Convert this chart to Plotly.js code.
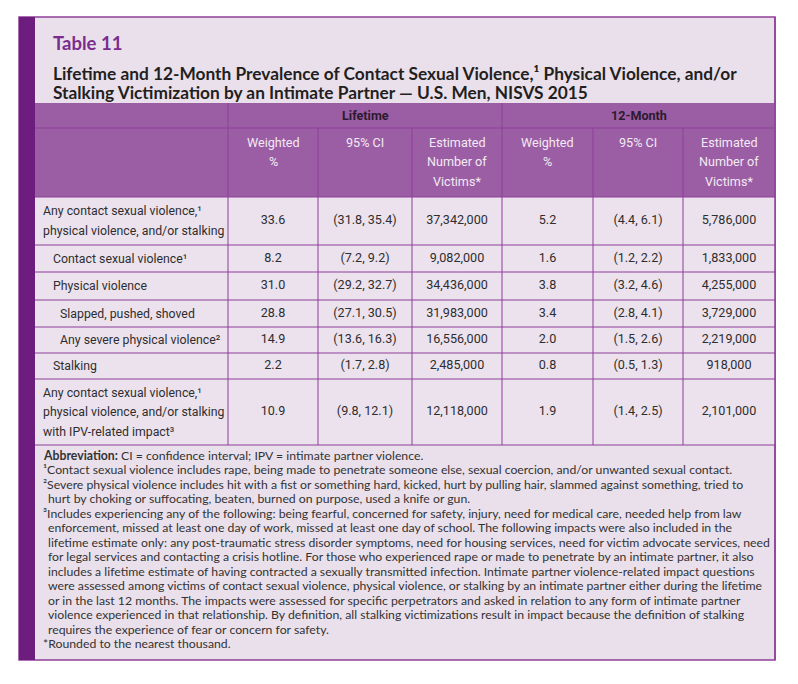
<!DOCTYPE html>
<html><head><meta charset="utf-8">
<script src="https://cdn.plot.ly/plotly-3.0.1.min.js"></script>
<style>html,body{margin:0;padding:0;background:#fff}</style>
</head><body><div id="chart" style="width:798px;height:684px"></div>
<script>
// ---------------- data ----------------
const tableNumber = "Table 11";
const titleLines = [
  "Lifetime and 12-Month Prevalence of Contact Sexual Violence,\u00b9 Physical Violence, and/or",
  "Stalking Victimization by an Intimate Partner \u2014 U.S. Men, NISVS 2015"
];
const groupHeaders = ["Lifetime", "12-Month"];
const subHeaders = ["Weighted<br>%", "95% CI", "Estimated<br>Number of<br>Victims*",
                    "Weighted<br>%", "95% CI", "Estimated<br>Number of<br>Victims*"];
const rowLabels = [
  "Any contact sexual violence,\u00b9<br>physical violence, and/or stalking",
  "Contact sexual violence\u00b9",
  "Physical violence",
  "Slapped, pushed, shoved",
  "Any severe physical violence\u00b2",
  "Stalking",
  "Any contact sexual violence,\u00b9<br>physical violence, and/or stalking<br>with IPV-related impact\u00b3"
];
const rowLevel = [0, 1, 1, 2, 2, 1, 0];
const lifetimeWeighted = [33.6, 8.2, 31.0, 28.8, 14.9, 2.2, 10.9];
const lifetimeCILow    = [31.8, 7.2, 29.2, 27.1, 13.6, 1.7, 9.8];
const lifetimeCIHigh   = [35.4, 9.2, 32.7, 30.5, 16.3, 2.8, 12.1];
const lifetimeVictims  = [37342000, 9082000, 34436000, 31983000, 16556000, 2485000, 12118000];
const monthWeighted    = [5.2, 1.6, 3.8, 3.4, 2.0, 0.8, 1.9];
const monthCILow       = [4.4, 1.2, 3.2, 2.8, 1.5, 0.5, 1.4];
const monthCIHigh      = [6.1, 2.2, 4.6, 4.1, 2.6, 1.3, 2.5];
const monthVictims     = [5786000, 1833000, 4255000, 3729000, 2219000, 918000, 2101000];
const footnoteLines = [
  "<b>Abbreviation:</b> CI = confidence interval; IPV = intimate partner violence.",
  "\u00b9Contact sexual violence includes rape, being made to penetrate someone else, sexual coercion, and/or unwanted sexual contact.",
  "\u00b2Severe physical violence includes hit with a fist or something hard, kicked, hurt by pulling hair, slammed against something, tried to",
  "hurt by choking or suffocating, beaten, burned on purpose, used a knife or gun.",
  "\u00b3Includes experiencing any of the following: being fearful, concerned for safety, injury, need for medical care, needed help from law",
  "enforcement, missed at least one day of work, missed at least one day of school. The following impacts were also included in the",
  "lifetime estimate only: any post-traumatic stress disorder symptoms, need for housing services, need for victim advocate services, need",
  "for legal services and contacting a crisis hotline. For those who experienced rape or made to penetrate by an intimate partner, it also",
  "includes a lifetime estimate of having contracted a sexually transmitted infection. Intimate partner violence-related impact questions",
  "were assessed among victims of contact sexual violence, physical violence, or stalking by an intimate partner either during the lifetime",
  "or in the last 12 months. The impacts were assessed for specific perpetrators and asked in relation to any form of intimate partner",
  "violence experienced in that relationship. By definition, all stalking victimizations result in impact because the definition of stalking",
  "requires the experience of fear or concern for safety.",
  "*Rounded to the nearest thousand."
];
const footnoteContinued = [false,false,false,true,false,true,true,true,true,true,true,true,true,false];

// ---------------- layout (style) ----------------
const W = 798, H = 684;
const BOX = {l: 19, band: 35, r: 775, t: 17, b: 660};
const colWidths = [193, 90, 94, 90, 91, 90, 92];
const headTop = 103, head1H = 25, head2H = 69;
const rowHeights = [48, 27, 28, 27, 26, 26, 66];
const LINE = 19.5;
const TF = "Roboto, Liberation Sans, sans-serif";
const TS = 12.6, LS = 12.3;
const FF = "Lato, Open Sans, sans-serif";
const purpleLine = "#8E3F98", headFill = "#9B5EA5", cellFill = "#ECE2EE", panelFill = "#EAE0EC";
const bandFill = "#6C1D7D", textCol = "#2E2E2E";

const colEdges = [BOX.band];
colWidths.forEach(w => colEdges.push(colEdges[colEdges.length - 1] + w));
const rowEdges = [headTop + head1H + head2H];
rowHeights.forEach(h => rowEdges.push(rowEdges[rowEdges.length - 1] + h));
const tableBottom = rowEdges[rowEdges.length - 1];

const shapes = [];
function rect(x0, y0, x1, y1, fill, line) {
  shapes.push({type: 'rect', xref: 'x', yref: 'y', x0, y0, x1, y1, fillcolor: fill,
    line: line || {width: 0}, layer: 'below'});
}
function seg(x0, y0, x1, y1, color, width) {
  shapes.push({type: 'line', xref: 'x', yref: 'y', x0, y0, x1, y1, line: {color, width}, layer: 'below'});
}
rect(BOX.l, BOX.t, BOX.r, BOX.b, panelFill, {color: purpleLine, width: 1.5});
rect(BOX.l, BOX.t, BOX.band, BOX.b, bandFill);
rect(BOX.band, headTop, BOX.r, rowEdges[0], headFill);
rect(BOX.band, rowEdges[0], BOX.r, tableBottom, cellFill);
seg(BOX.band, headTop + head1H, BOX.r, headTop + head1H, purpleLine, 1);
rowEdges.forEach(y => seg(BOX.band, y, BOX.r, y, purpleLine, 1));
for (let i = 1; i < colEdges.length - 1; i++) {
  const top = (i === 1 || i === 4) ? headTop : headTop + head1H;
  seg(colEdges[i], top, colEdges[i], tableBottom, purpleLine, 1);
}
seg(BOX.r, BOX.t, BOX.r, BOX.b, purpleLine, 1.5);

const ann = [];
function txt(x, y, text, o) {
  ann.push(Object.assign({x, y, xref: 'x', yref: 'y', text, showarrow: false,
    xanchor: 'center', yanchor: 'middle', align: 'center',
    font: {family: TF, size: TS, color: textCol}}, o || {}));
}
txt(51, 43, "<b>" + tableNumber + "</b>", {xanchor: 'left', font: {family: FF, size: 18.5, color: '#7B2D8E'}});
titleLines.forEach((t, i) => txt(51, 73 + i * 19.5, "<b>" + t + "</b>",
  {xanchor: 'left', font: {family: FF, size: 17.3, color: '#231F20'}}));
groupHeaders.forEach((g, i) => {
  const x0 = colEdges[1 + i * 3], x1 = colEdges[4 + i * 3];
  txt((x0 + x1) / 2, headTop + head1H / 2, "<b>" + g + "</b>", {font: {family: TF, size: TS, color: '#2B1A30'}});
});
subHeaders.forEach((s, i) => {
  const xc = (colEdges[1 + i] + colEdges[2 + i]) / 2;
  s.split('<br>').forEach((ln, k) =>
    txt(xc, headTop + head1H + 14 + k * LINE, ln, {font: {family: TF, size: TS, color: '#F2EAF3'}}));
});
const indents = [0, 10, 17];
rowLabels.forEach((lab, r) => {
  const parts = lab.split('<br>');
  const yc = (rowEdges[r] + rowEdges[r + 1]) / 2;
  parts.forEach((ln, k) => txt(colEdges[0] + 6 + indents[rowLevel[r]], yc + (k - (parts.length - 1) / 2) * LINE, ln,
    {xanchor: 'left', align: 'left', font: {family: TF, size: LS, color: textCol}}));
});
footnoteLines.forEach((ln, i) => txt(footnoteContinued[i] ? 46 : 41, 455 + i * 14.5, ln,
  {xanchor: 'left', align: 'left', font: {family: FF, size: 12.25, color: '#333333'}}));

const fmt1 = v => v.toFixed(1);
const fmtN = v => v.toLocaleString('en-US');
const fmtCI = (a, b) => "(" + a.toFixed(1) + ", " + b.toFixed(1) + ")";
const columns = [
  lifetimeWeighted.map(fmt1),
  lifetimeCILow.map((v, i) => fmtCI(v, lifetimeCIHigh[i])),
  lifetimeVictims.map(fmtN),
  monthWeighted.map(fmt1),
  monthCILow.map((v, i) => fmtCI(v, monthCIHigh[i])),
  monthVictims.map(fmtN)
];
const tx = [], ty = [], tt = [];
columns.forEach((col, c) => col.forEach((v, r) => {
  tx.push((colEdges[1 + c] + colEdges[2 + c]) / 2);
  ty.push((rowEdges[r] + rowEdges[r + 1]) / 2);
  tt.push(v);
}));

Plotly.newPlot('chart', [{
  type: 'scatter', mode: 'text', x: tx, y: ty, text: tt, textposition: 'middle center',
  textfont: {family: TF, size: TS, color: textCol}, hoverinfo: 'skip', cliponaxis: false, showlegend: false
}], {
  width: W, height: H, margin: {l: 0, r: 0, t: 0, b: 0},
  paper_bgcolor: '#fff', plot_bgcolor: '#fff',
  xaxis: {range: [0, W], visible: false, fixedrange: true},
  yaxis: {range: [H, 0], visible: false, fixedrange: true},
  shapes, annotations: ann, showlegend: false
}, {staticPlot: true});
</script></body></html>
